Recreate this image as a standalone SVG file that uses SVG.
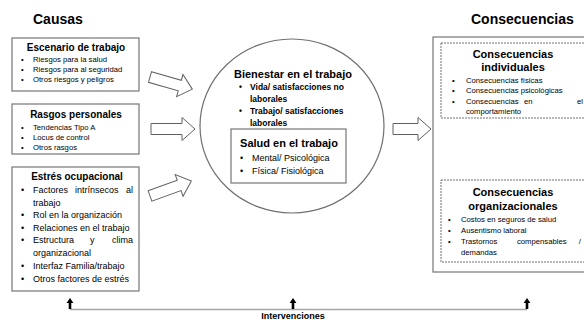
<svg xmlns="http://www.w3.org/2000/svg" width="584" height="320" viewBox="0 0 584 320">
<style>
text{font-family:"Liberation Sans",Arial,sans-serif;fill:#000}
.h{font-size:14px;font-weight:bold}
.t{font-size:10px;font-weight:bold}
.t11{font-size:11px;font-weight:bold}
.s{font-size:7.7px}
.m{font-size:9px}
.b{font-size:8.5px;font-weight:bold}
.box{fill:#fff;stroke:#808080;stroke-width:1.3}
.dash{fill:none;stroke:#606060;stroke-width:0.9;stroke-dasharray:2 1}
.arr{fill:#fff;stroke:#606060;stroke-width:1}
.c{text-anchor:middle}
.e{text-anchor:end}
</style>
<defs>
<polygon id="blk" points="0,-5.5 31,-5.5 31,-11.5 44,0 31,11.5 31,5.5 0,5.5"/>
<polygon id="up" points="0,-11 3.4,-6 1.3,-6 1.3,0 -1.3,0 -1.3,-6 -3.4,-6" fill="#000"/>
</defs>

<text class="h" x="33" y="24">Causas</text>
<text class="h" x="471" y="24">Consecuencias</text>

<g id="escenario">
<rect class="box" x="12" y="38" width="127" height="53"/>
<text class="t c" x="76" y="51">Escenario de trabajo</text>
<text class="s" x="21" y="62">•</text><text class="s" x="33" y="62">Riesgos para la salud</text>
<text class="s" x="21" y="72">•</text><text class="s" x="33" y="72">Riesgos para al seguridad</text>
<text class="s" x="21" y="82">•</text><text class="s" x="33" y="82">Otros riesgos y peligros</text>
</g>

<g id="rasgos">
<rect class="box" x="12" y="104" width="127" height="50"/>
<text class="t c" x="76" y="118">Rasgos personales</text>
<text class="s" x="21" y="130">•</text><text class="s" x="33" y="130">Tendencias Tipo A</text>
<text class="s" x="21" y="140">•</text><text class="s" x="33" y="140">Locus de control</text>
<text class="s" x="21" y="150">•</text><text class="s" x="33" y="150">Otros rasgos</text>
</g>

<g id="estres">
<rect class="box" x="12" y="167" width="127" height="124"/>
<text class="t c" x="77" y="180">Estrés ocupacional</text>
<text class="m" x="21" y="193">•</text><text class="m" x="33" y="193">Factores</text><text class="m" x="75" y="193">intrínsecos</text><text class="m e" x="133" y="193">al</text>
<text class="m" x="33" y="206">trabajo</text>
<text class="m" x="21" y="218">•</text><text class="m" x="33" y="218">Rol en la organización</text>
<text class="m" x="21" y="231">•</text><text class="m" x="33" y="231">Relaciones en el trabajo</text>
<text class="m" x="21" y="243">•</text><text class="m" x="33" y="243">Estructura</text><text class="m" x="90" y="243">y</text><text class="m e" x="133" y="243">clima</text>
<text class="m" x="33" y="256">organizacional</text>
<text class="m" x="21" y="269">•</text><text class="m" x="33" y="269">Interfaz Familia/trabajo</text>
<text class="m" x="21" y="282">•</text><text class="m" x="33" y="282">Otros factores de estrés</text>
</g>

<g id="bienestar">
<ellipse cx="292" cy="126" rx="92" ry="87" fill="#fff" stroke="#707070" stroke-width="1.2"/>
<text class="t11 c" x="293" y="78">Bienestar en el trabajo</text>
<text class="b" x="239" y="90">•</text><text class="b" x="250" y="90">Vida/ satisfacciones no</text>
<text class="b" x="250" y="102">laborales</text>
<text class="b" x="239" y="114">•</text><text class="b" x="250" y="114">Trabajo/ satisfacciones</text>
<text class="b" x="250" y="126">laborales</text>
</g>

<g id="salud">
<rect class="box" x="231" y="129" width="115" height="54"/>
<text class="t11 c" x="289" y="147">Salud en el trabajo</text>
<text class="m" x="240" y="161">•</text><text class="m" x="252" y="161">Mental/ Psicológica</text>
<text class="m" x="240" y="174">•</text><text class="m" x="252" y="174">Física/ Fisiológica</text>
</g>

<g id="consecuencias">
<rect class="box" x="433" y="37" width="170" height="235"/>
</g>

<g id="individuales">
<rect class="dash" x="441" y="43" width="160" height="75"/>
<text class="t11 c" x="513" y="58">Consecuencias</text>
<text class="t11 c" x="513" y="71">individuales</text>
<text class="s" x="452" y="83">•</text><text class="s" x="466" y="83">Consecuencias físicas</text>
<text class="s" x="452" y="93">•</text><text class="s" x="466" y="93">Consecuencias psicológicas</text>
<text class="s" x="452" y="104">•</text><text class="s" x="466" y="104">Consecuencias</text><text class="s" x="524" y="104">en</text><text class="s e" x="583" y="104">el</text>
<text class="s" x="466" y="114">comportamiento</text>
</g>

<g id="organizacionales">
<rect class="dash" x="441" y="180" width="160" height="82"/>
<text class="t11 c" x="513" y="196">Consecuencias</text>
<text class="t11 c" x="513" y="210">organizacionales</text>
<text class="s" x="448" y="222">•</text><text class="s" x="461" y="222">Costos en seguros de salud</text>
<text class="s" x="448" y="233">•</text><text class="s" x="461" y="233">Ausentismo laboral</text>
<text class="s" x="448" y="244">•</text><text class="s" x="461" y="244">Trastornos</text><text class="s" x="517" y="244">compensables</text><text class="s e" x="581" y="244">/</text>
<text class="s" x="461" y="255">demandas</text>
</g>

<g id="connectors">
<use href="#blk" class="arr" transform="translate(150,77) rotate(16)"/>
<use href="#blk" class="arr" transform="translate(151,129)"/>
<use href="#blk" class="arr" transform="translate(150,196) rotate(-20)"/>
<polygon class="arr" points="393,123.5 418,123.5 418,117.5 431,129 418,140.5 418,134.5 393,134.5"/>
<line x1="70" y1="309.5" x2="527" y2="309.5" stroke="#a6a6a6" stroke-width="1.5"/>
<use href="#up" transform="translate(70,309)"/>
<use href="#up" transform="translate(293,309)"/>
<use href="#up" transform="translate(527,309)"/>
</g>
<g id="intervenciones">
<text class="c" x="293" y="319" style="font-size:9px;font-weight:bold">Intervenciones</text>
</g>
</svg>
